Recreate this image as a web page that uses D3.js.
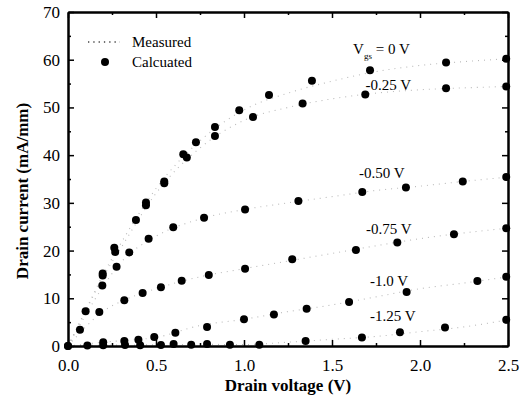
<!DOCTYPE html>
<html><head><meta charset="utf-8">
<script src="https://cdn.jsdelivr.net/npm/d3@7/dist/d3.min.js"></script>
<style>body{margin:0;background:#fff}svg{display:block}</style>
</head><body><div id="c"></div>
<script>
// ---- data ----
const seriesNames = ["0 V", "-0.25 V", "-0.50 V", "-0.75 V", "-1.0 V", "-1.25 V"];
// Calculated points (Vds, Id)
const calc0 = [[0,0],[0.068,3.4],[0.10,7.3],[0.197,15.2],[0.263,20.6],[0.386,26.4],[0.443,30.1],[0.547,34.5],[0.655,40.2],[0.727,42.7],[0.835,45.9],[0.973,49.4],[1.142,52.6],[1.386,55.6],[1.716,57.8],[2.148,59.4],[2.49,60.2]];
const calc025 = [[0,0],[0.197,14.8],[0.268,19.7],[0.443,29.5],[0.547,34.1],[0.675,39.5],[0.835,44.0],[1.051,48.0],[1.333,50.8],[1.689,52.7],[2.148,54.0],[2.49,54.4]];
const calc050 = [[0.195,12.7],[0.276,16.6],[0.348,19.6],[0.458,22.5],[0.598,24.9],[0.773,26.9],[1.006,28.6],[1.309,30.4],[1.672,32.3],[1.92,33.2],[2.243,34.5],[2.49,35.4]];
const calc075 = [[0.178,7.1],[0.32,9.6],[0.424,11.1],[0.528,12.3],[0.646,13.7],[0.80,14.9],[1.006,16.2],[1.274,18.2],[1.636,20.1],[1.871,21.7],[2.193,23.4],[2.49,24.7]];
const calc100 = [[0.2,0.8],[0.32,1.05],[0.40,1.3],[0.49,1.9],[0.61,2.8],[0.79,4.0],[1.0,5.6],[1.17,6.6],[1.356,7.8],[1.597,9.2],[1.924,11.3],[2.326,13.6],[2.49,14.5]];
const calc125 = [[0.11,0.1],[0.2,0.15],[0.324,0.2],[0.41,0.15],[0.528,0.2],[0.60,0.4],[0.70,0.25],[0.79,0.4],[0.92,0.25],[1.087,0.25],[1.35,1.05],[1.67,1.8],[1.886,2.9],[2.142,3.9],[2.49,5.5]];
// Measured curves (dotted)
const measX = [0,0.1,0.2,0.3,0.5,0.75,1.0,1.25,1.5,1.75,2.0,2.25,2.5];
const meas0   = [0,7.5,15,21.5,33,43,49.5,53,55.5,57.5,58.8,59.6,60.2];
const meas025 = [0,7.3,14.5,20.5,32,41.5,47.3,50,51.8,53,53.7,54.1,54.4];
const meas050 = [0,6.5,12.5,17.5,23,26.6,28.6,30,31.3,32.6,33.5,34.5,35.4];
const meas075 = [0,4,7.3,9.3,12,14.5,16.2,17.8,19.4,21,22.5,23.7,24.7];
const meas100 = [0,0.4,0.8,1.1,1.8,4.3,5.6,7.2,8.6,10.3,12,13.2,14.5];
const meas125 = [0,0.1,0.15,0.2,0.25,0.35,0.3,0.8,1.4,2.0,3.0,4.0,5.5];
const xTicks = [0,0.5,1.0,1.5,2.0,2.5];
const xTickLabels = ["0.0","0.5","1.0","1.5","2.0","2.5"];
const yTicks = [0,10,20,30,40,50,60,70];
const labelPos = [[1.62,61.3],[1.69,53.6],[1.653,35.2],[1.693,23.5],[1.716,12.6],[1.716,5.2]];

const calcAll = [calc0,calc025,calc050,calc075,calc100,calc125];
const measAll = [meas0,meas025,meas050,meas075,meas100,meas125];

// ---- chart ----
const W=521,H=401, L=68,R=508,T=12,B=346;
const svg=d3.select("#c").append("svg").attr("width",W).attr("height",H);
const x=d3.scaleLinear().domain([0,2.5]).range([L,R]);
const y=d3.scaleLinear().domain([0,70]).range([B,T]);
const serif="'Liberation Serif','Times New Roman',serif";

// measured dotted lines
const line=d3.line().x((d,i)=>x(measX[i])).y(d=>y(d)).curve(d3.curveMonotoneX);
measAll.forEach(m=>{
  svg.append("path").attr("d",line(m)).attr("fill","none")
    .attr("stroke","#bbb").attr("stroke-width",1.1).attr("stroke-dasharray","1,5");
});

// calculated points
calcAll.forEach(s=>{
  svg.append("g").selectAll("circle").data(s).join("circle")
    .attr("cx",d=>x(d[0])).attr("cy",d=>y(d[1])).attr("r",4).attr("fill","#000");
});

// axes
function ax(gen,tr,vals,size,labels,pad){
  const g=svg.append("g").attr("transform",tr).call(gen.tickValues(vals).tickSizeInner(size).tickSizeOuter(0).tickPadding(pad||6)
    .tickFormat(labels?((d,i)=>labels[i]):(()=>"")));
  g.select(".domain").attr("stroke","#000").attr("stroke-width",2);
  g.selectAll(".tick line").attr("stroke","#000").attr("stroke-width",1.5);
  g.selectAll("text").attr("font-family",serif).attr("font-size",17).attr("fill","#000");
  return g;
}
const xMinor=d3.range(0.25,2.5,0.5);
const yMinor=d3.range(5,70,10);
ax(d3.axisBottom(x),`translate(0,${B})`,xTicks,-6,xTickLabels,13);
ax(d3.axisBottom(x),`translate(0,${B})`,xMinor,-3,null);
ax(d3.axisTop(x),`translate(0,${T})`,xTicks,-6,null);
ax(d3.axisTop(x),`translate(0,${T})`,xMinor,-3,null);
ax(d3.axisLeft(y),`translate(${L},0)`,yTicks,-6,yTicks.map(String),8);
ax(d3.axisLeft(y),`translate(${L},0)`,yMinor,-3,null);
ax(d3.axisRight(y),`translate(${R},0)`,yTicks,-6,null);
ax(d3.axisRight(y),`translate(${R},0)`,yMinor,-3,null);

// axis titles
svg.append("text").attr("x",(L+R)/2).attr("y",391).attr("text-anchor","middle")
  .attr("font-family",serif).attr("font-size",17).attr("font-weight","bold").text("Drain voltage (V)");
svg.append("text").attr("transform",`translate(28,${(T+B)/2+12}) rotate(-90)`).attr("text-anchor","middle")
  .attr("font-family",serif).attr("font-size",17).attr("font-weight","bold").text("Drain current (mA/mm)");

// legend
svg.append("line").attr("x1",88).attr("x2",120).attr("y1",42).attr("y2",42)
  .attr("stroke","#444").attr("stroke-width",1.3).attr("stroke-dasharray","1.3,4");
svg.append("circle").attr("cx",105).attr("cy",62).attr("r",4).attr("fill","#000");
svg.append("text").attr("x",132).attr("y",47).attr("font-family",serif).attr("font-size",15).text("Measured");
svg.append("text").attr("x",132).attr("y",67).attr("font-family",serif).attr("font-size",15).text("Calcuated");

// series labels
labelPos.forEach((p,i)=>{
  const t=svg.append("text").attr("x",x(p[0])).attr("y",y(p[1])).attr("font-family",serif).attr("font-size",15);
  if(i===0){
    t.append("tspan").text("V");
    t.append("tspan").attr("font-size",9).attr("dy",5).text("gs");
    t.append("tspan").attr("dy",-5).text(" = "+seriesNames[0]);
  } else t.text(seriesNames[i]);
});
</script></body></html>
